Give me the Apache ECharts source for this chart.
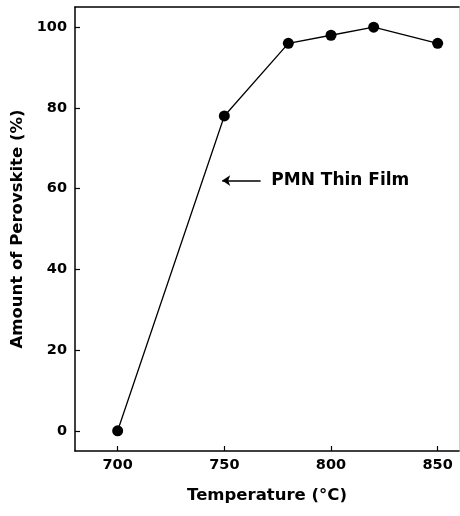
<!DOCTYPE html>
<html>
<head>
<meta charset="utf-8">
<script src="https://cdn.jsdelivr.net/npm/echarts@6/dist/echarts.min.js"></script>
<style>
html,body{margin:0;padding:0;background:#fff;}
#chart{width:460px;height:516px;}
</style>
</head>
<body>
<div id="chart"></div>
<script>
var temperatures = [700, 750, 780, 800, 820, 850];
var perovskite = [0, 78, 96, 98, 100, 96];
var xTicks = [700, 750, 800, 850];
var yTicks = [0, 20, 40, 60, 80, 100];
var annotationText = 'PMN Thin Film';
var annotationArrow = [[767, 62], [749, 62]];
var annotationTextAt = [772, 62];

var FONT = 'DejaVu Sans';
var chart = echarts.init(document.getElementById('chart'), null, {renderer: 'canvas'});
var pts = temperatures.map(function (t, i) { return [t, perovskite[i]]; });

chart.setOption({
  animation: false,
  backgroundColor: '#fff',
  grid: {left: 75, top: 7, right: 1, bottom: 65, containLabel: false},
  xAxis: [{
    type: 'value', min: 680, max: 860,
    name: 'Temperature (°C)', nameLocation: 'middle', nameGap: 36,
    nameTextStyle: {fontFamily: FONT, fontWeight: 'bold', fontSize: 16.5, color: '#000'},
    axisLine: {show: true, onZero: false, lineStyle: {color: '#000', width: 1.5}},
    axisTick: {show: true, inside: true, length: 5, customValues: xTicks, lineStyle: {color: '#000', width: 1.2}},
    axisLabel: {customValues: xTicks, margin: 7, fontFamily: FONT, fontWeight: 'bold', fontSize: 14.5, color: '#000'},
    splitLine: {show: false}
  }, {
    type: 'value', min: 680, max: 860, position: 'top',
    axisLine: {show: true, onZero: false, lineStyle: {color: '#000', width: 1.5}},
    axisTick: {show: false}, axisLabel: {show: false}, splitLine: {show: false}
  }],
  yAxis: [{
    type: 'value', min: -5, max: 105,
    name: 'Amount of Perovskite (%)', nameLocation: 'middle', nameGap: 46,
    nameTextStyle: {fontFamily: FONT, fontWeight: 'bold', fontSize: 16.5, color: '#000'},
    axisLine: {show: true, onZero: false, lineStyle: {color: '#000', width: 1.5}},
    axisTick: {show: true, inside: true, length: 5, customValues: yTicks, lineStyle: {color: '#000', width: 1.2}},
    axisLabel: {customValues: yTicks, margin: 8, fontFamily: FONT, fontWeight: 'bold', fontSize: 14.5, color: '#000'},
    splitLine: {show: false}
  }, {
    type: 'value', min: -5, max: 105, position: 'right',
    axisLine: {show: true, onZero: false, lineStyle: {color: '#cfcfcf', width: 1}},
    axisTick: {show: false}, axisLabel: {show: false}, splitLine: {show: false}
  }],
  series: [{
    type: 'line',
    data: pts,
    xAxisIndex: 0, yAxisIndex: 0,
    symbol: 'circle', symbolSize: 11,
    lineStyle: {color: '#000', width: 1.3},
    itemStyle: {color: '#000'},
    markLine: {
      silent: true,
      symbol: ['none', 'arrow'], symbolSize: 8,
      lineStyle: {color: '#000', width: 1.5, type: 'solid'},
      label: {show: false},
      data: [[{coord: annotationArrow[0]}, {coord: annotationArrow[1]}]]
    },
    markPoint: {
      silent: true,
      symbol: 'circle', symbolSize: 0,
      label: {show: true, position: 'right', distance: 0, formatter: annotationText,
        fontFamily: FONT, fontWeight: 'bold', fontSize: 17, color: '#000'},
      data: [{coord: annotationTextAt}]
    }
  }]
});
</script>
</body>
</html>
